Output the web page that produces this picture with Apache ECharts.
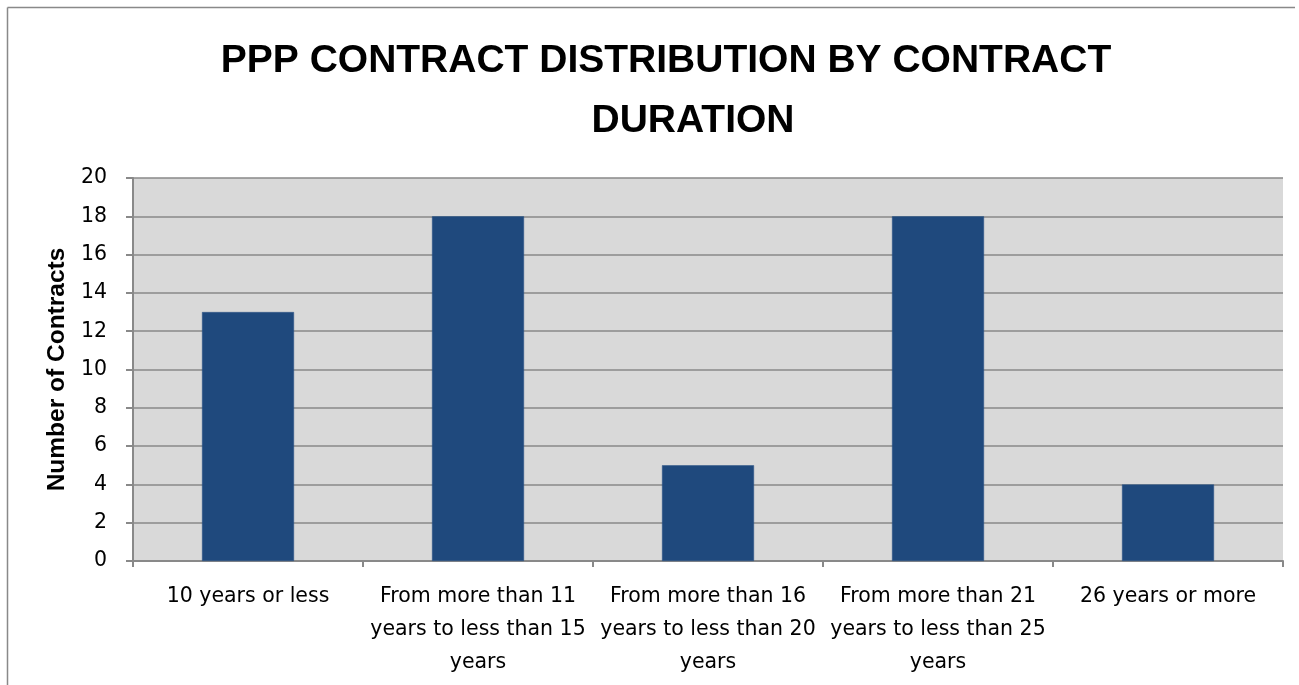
<!DOCTYPE html>
<html>
<head>
<meta charset="utf-8">
<script src="https://cdn.jsdelivr.net/npm/echarts@6/dist/echarts.min.js"></script>
<style>
html,body{margin:0;padding:0;background:#fff;}
#chart{width:1299px;height:685px;}
</style>
</head>
<body>
<div id="chart"></div>
<script>
const titleLine1 = 'PPP CONTRACT DISTRIBUTION BY CONTRACT';
const titleLine2 = 'DURATION';
const categories = [
  '10 years or less',
  'From more than 11\nyears to less than 15\nyears',
  'From more than 16\nyears to less than 20\nyears',
  'From more than 21\nyears to less than 25\nyears',
  '26 years or more'
];
const contractCounts = [13, 18, 5, 18, 4];
const yAxisName = 'Number of Contracts';

const chart = echarts.init(document.getElementById('chart'));
const gridColor = '#898989';
chart.setOption({
  animation: false,
  backgroundColor: '#ffffff',
  title: [
    {
      text: titleLine1,
      left: 661, top: 37, textAlign: 'center',
      textStyle: {fontFamily: 'Liberation Sans', fontWeight: 'bold', fontSize: 39, color: '#000', lineHeight: 39}
    },
    {
      text: titleLine2,
      left: 688, top: 97, textAlign: 'center',
      textStyle: {fontFamily: 'Liberation Sans', fontWeight: 'bold', fontSize: 39, color: '#000', lineHeight: 39}
    }
  ],
  graphic: [
    {type: 'line', shape: {x1: 7.5, y1: 7.5, x2: 1295, y2: 7.5}, style: {stroke: gridColor, lineWidth: 1.5}, silent: true},
    {type: 'line', shape: {x1: 7.5, y1: 7.5, x2: 7.5, y2: 685}, style: {stroke: gridColor, lineWidth: 1.5}, silent: true}
  ],
  grid: {left: 133, right: 16, top: 178, bottom: 124, show: true, backgroundColor: '#d9d9d9', borderWidth: 0},
  xAxis: {
    type: 'category',
    data: categories,
    axisLine: {lineStyle: {color: gridColor, width: 2}},
    axisTick: {show: true, length: 6, lineStyle: {color: gridColor, width: 2}},
    axisLabel: {
      interval: 0, margin: 19,
      fontFamily: 'DejaVu Sans', fontSize: 20.5, color: '#000', lineHeight: 33, align: 'center'
    }
  },
  yAxis: {
    type: 'value',
    min: 0, max: 20, interval: 2,
    name: yAxisName,
    nameLocation: 'middle',
    nameGap: 59,
    nameTextStyle: {fontFamily: 'Liberation Sans', fontWeight: 'bold', fontSize: 24.5, color: '#000'},
    axisLine: {show: true, lineStyle: {color: gridColor, width: 2}},
    axisTick: {show: true, length: 7, lineStyle: {color: gridColor, width: 2}},
    axisLabel: {margin: 26, fontFamily: 'DejaVu Sans', fontSize: 20.5, color: '#000'},
    splitLine: {show: true, lineStyle: {color: gridColor, width: 1.5}}
  },
  series: [{
    type: 'bar',
    data: contractCounts,
    barWidth: '40%',
    itemStyle: {color: '#1f497d', borderColor: '#2c5587', borderWidth: 0.5}
  }]
});
</script>
</body>
</html>
